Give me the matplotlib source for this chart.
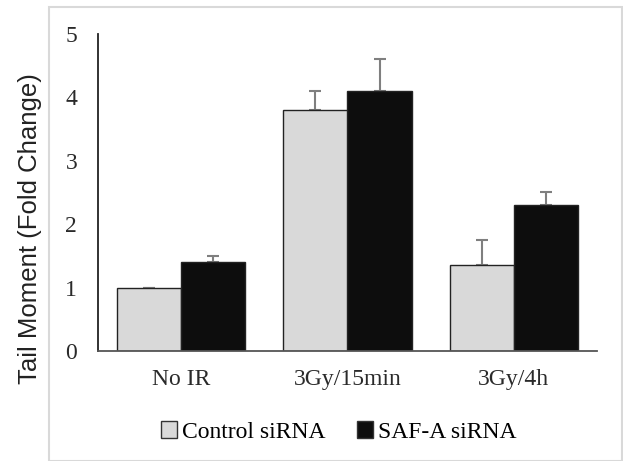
import numpy as np
import matplotlib
matplotlib.use('Agg')
import matplotlib.pyplot as plt
from matplotlib.patches import Patch, Rectangle

# данные с картинки
categories = ['No IR', '3Gy/15min', '3Gy/4h']
control = [1.0, 3.8, 1.35]
control_err = [0.0, 0.3, 0.4]
safa = [1.4, 4.1, 2.3]
safa_err = [0.1, 0.5, 0.2]
series_names = ['Control siRNA', 'SAF-A siRNA']

W, H = 623, 461
fig = plt.figure(figsize=(W / 100, H / 100), dpi=100)

# светло-серая рамка вокруг всего графика
fig.patches.append(Rectangle((49 / W, 0), (622 - 49) / W, 1 - 7 / H,
                             transform=fig.transFigure, fill=False,
                             edgecolor='#d9d9d9', lw=1.5))

ax = fig.add_axes([98 / W, 1 - 351 / H, (597 - 98) / W, (351 - 34) / H])

x = np.arange(len(categories))
bw = 0.385
err_kw = dict(ecolor='#7f7f7f', elinewidth=1.5, capsize=4, capthick=1.5, zorder=1.5)
ax.bar(x - bw / 2, control, bw, color='#d9d9d9', edgecolor='#222222', lw=1,
       yerr=[np.zeros(3), control_err], error_kw=err_kw, zorder=2)
ax.bar(x + bw / 2, safa, bw, color='#0d0d0d', edgecolor='#222222', lw=1,
       yerr=[np.zeros(3), safa_err], error_kw=err_kw, zorder=2)

ax.set_xlim(-0.5, 2.5)
ax.set_ylim(0, 5)
ax.set_yticks(range(6))
ax.set_xticks(x)
ax.set_xticklabels(categories)

serif = 'Liberation Serif'
for lab in ax.get_xticklabels() + ax.get_yticklabels():
    lab.set_fontfamily(serif)
    lab.set_fontsize(17)
    lab.set_color('#2a2a2a')
ax.tick_params(axis='both', length=0)
ax.tick_params(axis='y', pad=15)
ax.tick_params(axis='x', pad=13)

for s in ['top', 'right']:
    ax.spines[s].set_visible(False)
ax.spines['left'].set_color('#222222')
ax.spines['bottom'].set_color('#555555')
ax.spines['left'].set_linewidth(1.3)
ax.spines['bottom'].set_linewidth(1.3)

fig.text(30 / W, 1 - 229 / H, 'Tail Moment (Fold Change)', rotation=90,
         ha='center', va='center', fontsize=18.5, family='Liberation Sans',
         color='#222222')

handles = [Patch(facecolor='#d9d9d9', edgecolor='#333333', lw=1),
           Patch(facecolor='#0d0d0d', edgecolor='#333333', lw=1)]
fig.legend(handles, series_names, loc='center', bbox_to_anchor=(339 / W, 1 - 432 / H),
           ncol=2, frameon=False, prop={'family': serif, 'size': 17},
           handlelength=0.68, handleheight=0.68, handletextpad=0.2,
           columnspacing=1.35, borderpad=0, borderaxespad=0)

fig.savefig('out.png', dpi=100)
